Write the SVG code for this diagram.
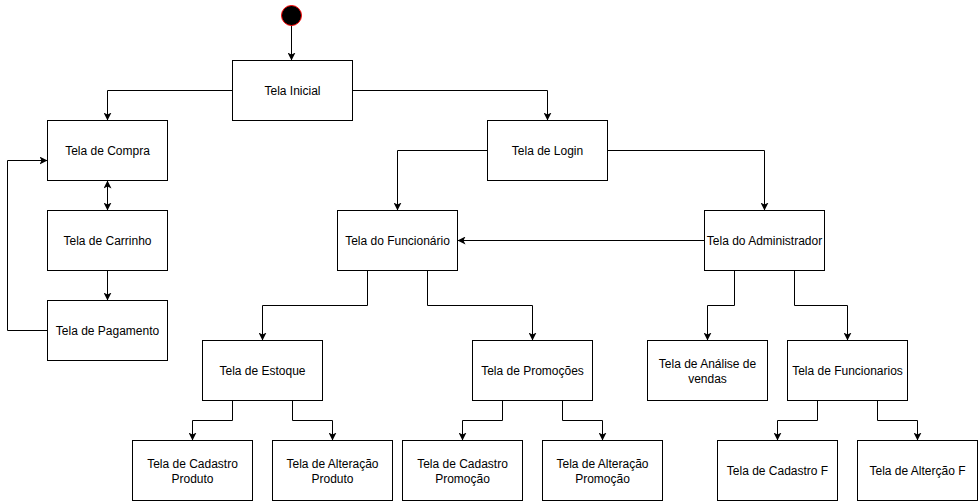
<svg xmlns="http://www.w3.org/2000/svg" width="979" height="501" viewBox="0 0 979 501">
<style>
.n rect{fill:#fff;stroke:#000;stroke-width:1}
.n text{font-family:"Liberation Sans",Arial,Helvetica,sans-serif;font-size:12px;fill:#000;text-anchor:middle}
.e path{fill:none;stroke:#000;stroke-width:1;marker-end:url(#a)}
</style>
<defs>
<marker id="a" viewBox="0 0 8 8" refX="8" refY="4" markerWidth="8" markerHeight="8" markerUnits="userSpaceOnUse" orient="auto-start-reverse">
<path d="M0,0 L8,4 L0,8 L2,4 z" fill="#000"/>
</marker>
</defs>
<rect width="979" height="501" fill="#fff"/>
<g transform="translate(0.5,0.5)">
<g class="e" id="connectors">
<path d="M291,25 V60"/>
<path d="M232,90 H107 V120"/>
<path d="M352,90 H547 V120"/>
<path d="M107,180 V210" style="marker-start:url(#a)"/>
<path d="M107,270 V300"/>
<path d="M47,330 H7 V160 H47"/>
<path d="M487,150 H397 V210"/>
<path d="M607,150 H764 V210"/>
<path d="M704,240 H457"/>
<path d="M367,270 V305 H262 V340"/>
<path d="M427,270 V305 H532 V340"/>
<path d="M232,400 V420 H192 V440"/>
<path d="M292,400 V420 H332 V440"/>
<path d="M502,400 V420 H462 V440"/>
<path d="M562,400 V420 H602 V440"/>
<path d="M734,270 V305 H707 V340"/>
<path d="M794,270 V305 H847 V340"/>
<path d="M817,400 V420 H777 V440"/>
<path d="M877,400 V420 H917 V440"/>
</g>
<g id="start"><circle cx="291" cy="15" r="10" fill="#000" stroke="#ff0000" stroke-width="1"/></g>
<g class="n" id="inicial"><rect x="232" y="60" width="120" height="60"/><text x="292" y="94">Tela Inicial</text></g>
<g class="n" id="compra"><rect x="47" y="120" width="120" height="60"/><text x="107" y="154">Tela de Compra</text></g>
<g class="n" id="carrinho"><rect x="47" y="210" width="120" height="60"/><text x="107" y="244">Tela de Carrinho</text></g>
<g class="n" id="pagamento"><rect x="47" y="300" width="120" height="60"/><text x="107" y="334">Tela de Pagamento</text></g>
<g class="n" id="login"><rect x="487" y="120" width="120" height="60"/><text x="547" y="154">Tela de Login</text></g>
<g class="n" id="funcionario"><rect x="337" y="210" width="120" height="60"/><text x="397" y="244">Tela do Funcionário</text></g>
<g class="n" id="admin"><rect x="704" y="210" width="120" height="60"/><text x="764" y="244">Tela do Administrador</text></g>
<g class="n" id="estoque"><rect x="202" y="340" width="120" height="60"/><text x="262" y="374">Tela de Estoque</text></g>
<g class="n" id="promocoes"><rect x="472" y="340" width="120" height="60"/><text x="532" y="374">Tela de Promoções</text></g>
<g class="n" id="analise"><rect x="647" y="340" width="120" height="60"/><text x="707" y="367">Tela de Análise de</text><text x="707" y="382">vendas</text></g>
<g class="n" id="funcionarios"><rect x="787" y="340" width="120" height="60"/><text x="847" y="374">Tela de Funcionarios</text></g>
<g class="n" id="cadprod"><rect x="132" y="440" width="120" height="60"/><text x="192" y="467">Tela de Cadastro</text><text x="192" y="482">Produto</text></g>
<g class="n" id="altprod"><rect x="272" y="440" width="120" height="60"/><text x="332" y="467">Tela de Alteração</text><text x="332" y="482">Produto</text></g>
<g class="n" id="cadpromo"><rect x="402" y="440" width="120" height="60"/><text x="462" y="467">Tela de Cadastro</text><text x="462" y="482">Promoção</text></g>
<g class="n" id="altpromo"><rect x="542" y="440" width="120" height="60"/><text x="602" y="467">Tela de Alteração</text><text x="602" y="482">Promoção</text></g>
<g class="n" id="cadf"><rect x="717" y="440" width="120" height="60"/><text x="777" y="474">Tela de Cadastro F</text></g>
<g class="n" id="altf"><rect x="857" y="440" width="120" height="60"/><text x="917" y="474">Tela de Alterção F</text></g>
</g>
</svg>
